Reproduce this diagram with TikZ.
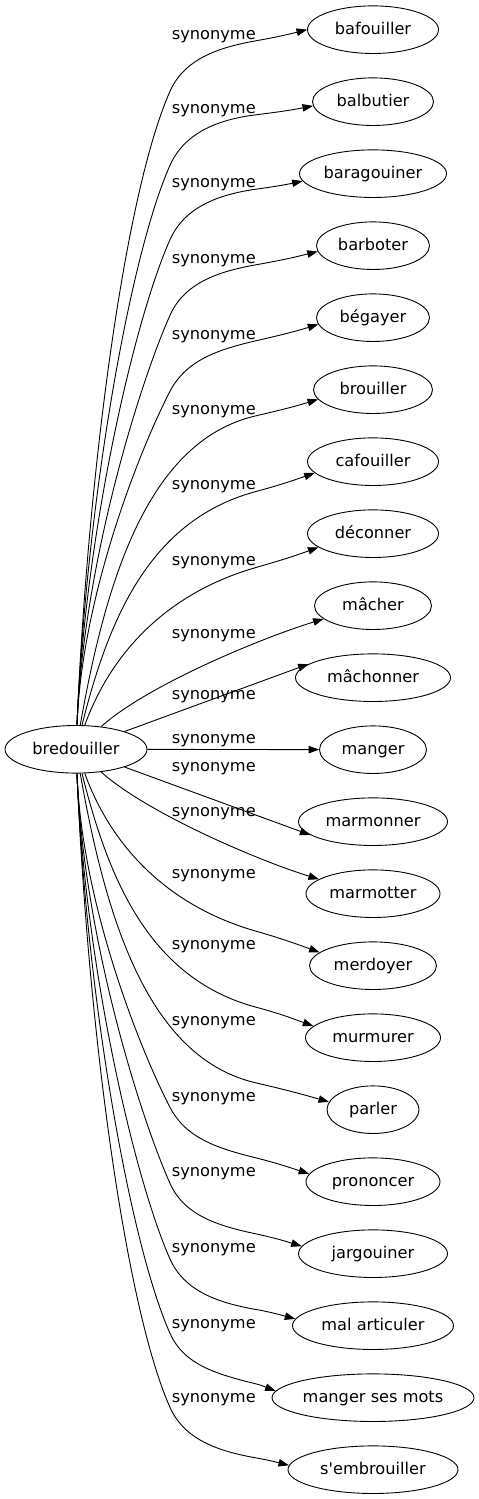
\documentclass[tikz,border=0pt]{standalone}
\usepackage{fontspec}
\setmainfont{DejaVu Sans}[Ligatures=TeXOff]
\usetikzlibrary{shapes.geometric,arrows.meta}
\begin{document}
\begin{tikzpicture}[x=1pt,y=1pt,
  tnode/.style={ellipse, draw, line width=0.9pt, minimum height=47.6pt, inner sep=0pt,
                text height=11pt, text depth=1pt, font=\fontsize{16.2}{19}\selectfont},
  lbl/.style={inner sep=0pt, anchor=base west, font=\fontsize{16.2}{19}\selectfont},
  conn/.style={line width=0.9pt, -{Triangle[length=10.5pt,width=7.5pt]}}]
\useasboundingbox (0,0) rectangle (479,1499);
\node[tnode, minimum width=142pt] (src) at (76,749.7) {bredouiller};
\foreach \n/\t/\w [count=\k from 0] in {
  baf/bafouiller/131, bal/balbutier/121, bara/baragouiner/147, barb/barboter/113,
  beg/bégayer/113, brou/brouiller/119, caf/cafouiller/131, dec/déconner/131,
  mach/mâcher/117, machon/mâchonner/155, mang/manger/107, marmon/marmonner/149,
  marmot/marmotter/134, merd/merdoyer/127, murm/murmurer/135, parl/parler/92,
  pron/prononcer/134, jarg/jargouiner/149, mal/mal articuler/161,
  mss/manger ses mots/202, semb/s'embrouiller/170}
  \node[tnode, minimum width=\w pt] (\n) at (373,{1469.3-72*\k}) {\t};
\foreach \yb [count=\i] in {39.3,113.3,187.7,263.3,339.3,414.3,490,566,638.3,699.3,743.3,
  771.7,816.7,878.3,950,1026,1101.7,1176.7,1252.7,1328.3,1402.7}
  \node[lbl] (lab\i) at (171.7,{1499-\yb}) {synonyme};
% long edges: steep part, bend, then to the target
\foreach \tg/\yb/\th/\al/\ph/\s in {
  baf/39.3/10/14/0/1, bal/113.3/7/11/4/1, bara/187.7/8/12/6/1, barb/263.3/10/14/6/1,
  beg/339.3/13/17/7/1,
  semb/39.3/10/14/3/-1, mss/113.3/14/20/4/-1, mal/187.7/10/15/5/-1, jarg/263.3/12/17/6/-1,
  pron/339.3/14/18/7/-1}{
  \pgfmathsetmacro\H{674-\yb}
  \pgfmathsetmacro\be{45+21*min(1,\H/400)}
  \pgfmathsetmacro\bb{0.157*\H+12}
  \pgfmathsetmacro\cax{76+0.018*\H}
  \pgfmathsetmacro\cay{749.65+\s*(749.35-(726-0.393*\H))}
  \pgfmathsetmacro\cbx{170-\bb*cos(\be)}
  \pgfmathsetmacro\cby{749.65+\s*(749.35-(\yb+52+\bb*sin(\be)))}
  \pgfmathsetmacro\ky{749.65+\s*(749.35-(\yb+52))}
  \pgfmathsetmacro\py{749.65+\s*(749.35-(\yb+1.5))}
  \pgfmathsetmacro\ko{\s*\be}
  \pgfmathsetmacro\pin{180+\s*\th}
  \pgfmathsetmacro\po{\s*\th}
  \pgfmathsetmacro\tin{180+\s*\al}
  \pgfmathtruncatemacro\an{180+\s*\ph}
  \coordinate (K\tg) at (170,\ky);
  \coordinate (P\tg) at (256,\py);
  \draw[conn] (src) .. controls (\cax,\cay) and (\cbx,\cby) .. (K\tg)
     to[out=\ko, in=\pin, out looseness=0.9, in looseness=1.0] (P\tg)
     to[out=\po, in=\tin] (\tg.\an);
}
% medium edges: one smooth arc to the label corner, then to the target
\foreach \tg/\yb/\ax/\ay/\bx/\by/\th/\al/\ph/\s in {
  brou/414.3/106.2/577.7/148.8/440.5/13/17/10/1,
  caf/490/108.6/618.6/149.7/520/15/19/11/1,
  dec/566/112.1/650.1/169.5/592.3/16/20/14/1,
  parl/414.3/106.2/577.7/148.8/440.5/13/16/10/-1,
  murm/490/108.6/618.6/149.7/520/15/20/11/-1,
  merd/566/112.1/650.1/169.5/592.3/16/20/14/-1}{
  \pgfmathsetmacro\cay{749.65+\s*(749.35-\ay)}
  \pgfmathsetmacro\cby{749.65+\s*(749.35-\by)}
  \pgfmathsetmacro\py{749.65+\s*(749.35-(\yb+1.5))}
  \pgfmathsetmacro\po{\s*\th}
  \pgfmathsetmacro\tin{180+\s*\al}
  \pgfmathtruncatemacro\an{180+\s*\ph}
  \coordinate (P\tg) at (256,\py);
  \draw[conn] (src) .. controls (\ax,\cay) and (\bx,\cby) .. (P\tg)
     to[out=\po, in=\tin] (\tg.\an);
}
\foreach \tg/\s in {mach/1, marmot/-1}{
  \pgfmathsetmacro\oa{42*\s}
  \pgfmathsetmacro\ia{180+17*\s}
  \pgfmathtruncatemacro\an{180+15*\s}
  \draw[conn] (src) to[out=\oa, in=\ia, looseness=0.65] (\tg.\an);
}
\draw[conn] (src) -- (machon.168);
\draw[conn] (src) -- (marmon.192);
\draw[conn] (src) -- (mang);
\end{tikzpicture}
\end{document}
